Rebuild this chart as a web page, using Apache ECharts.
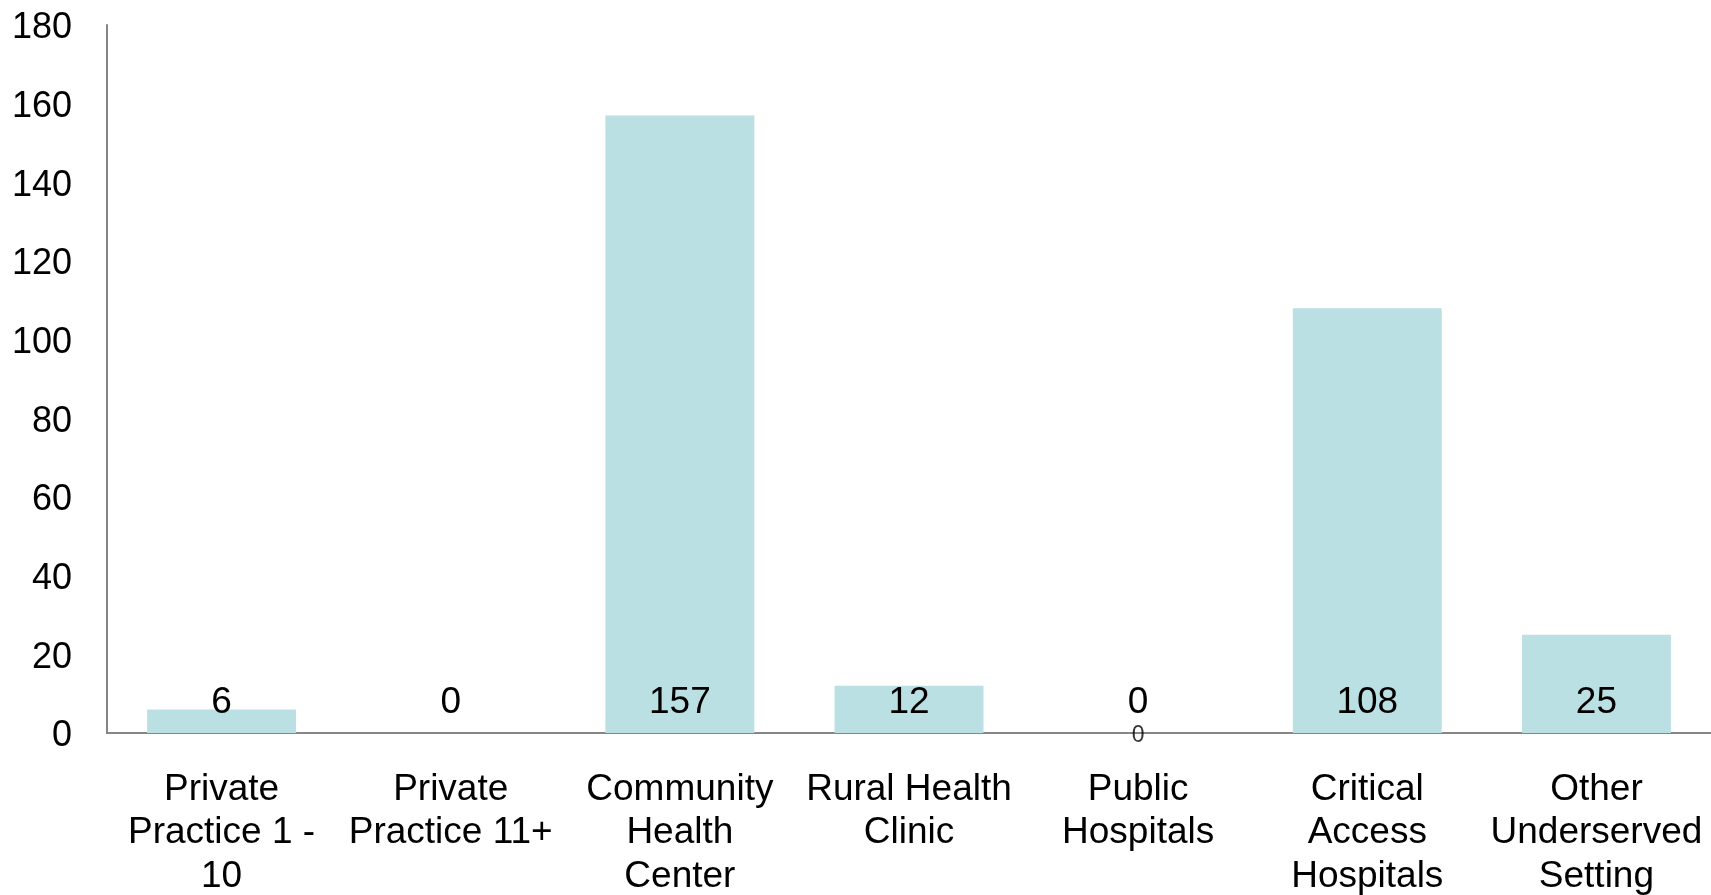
<!DOCTYPE html>
<html>
<head>
<meta charset="utf-8">
<script src="https://cdn.jsdelivr.net/npm/echarts@6/dist/echarts.min.js"></script>
<style>
  html, body { margin: 0; padding: 0; background: #fff; }
  #chart { width: 1711px; height: 895px; }
</style>
</head>
<body>
<div id="chart"></div>
<script>
// Practice settings and their counts
const categories = [
  'Private\nPractice 1 -\n10',
  'Private\nPractice 11+',
  'Community\nHealth\nCenter',
  'Rural Health\nClinic',
  'Public\nHospitals',
  'Critical\nAccess\nHospitals',
  'Other\nUnderserved\nSetting'
];
const counts = [6, 0, 157, 12, 0, 108, 25];

// Extra small zero label sitting on the baseline under Public Hospitals
const extraLabels = [['Public\nHospitals', 0]];

const yTicks = { min: 0, max: 180, interval: 20 };

const font = '"Liberation Sans", Arial, sans-serif';
const chart = echarts.init(document.getElementById('chart'), null, { renderer: 'canvas' });

chart.setOption({
  animation: false,
  backgroundColor: '#ffffff',
  grid: {
    left: 107, right: 0, top: 25, bottom: 162,
    containLabel: false,
    outerBoundsMode: 'none'
  },
  xAxis: {
    type: 'category',
    data: categories,
    axisLine: { show: true, lineStyle: { color: '#868686', width: 2 } },
    axisTick: { show: false },
    axisLabel: {
      color: '#000',
      fontFamily: font,
      fontSize: 37,
      lineHeight: 43.5,
      margin: 35,
      interval: 0
    },
    splitLine: { show: false }
  },
  yAxis: {
    type: 'value',
    min: yTicks.min,
    max: yTicks.max,
    interval: yTicks.interval,
    axisLine: { show: true, lineStyle: { color: '#868686', width: 2 } },
    axisTick: { show: false },
    axisLabel: {
      color: '#000',
      fontFamily: font,
      fontSize: 36,
      margin: 35,
      formatter: '{v|{value}}',
      rich: { v: { color: '#000', fontFamily: font, fontSize: 36, padding: [7, 0, 0, 0] } }
    },
    splitLine: { show: false }
  },
  series: [
    {
      type: 'bar',
      data: counts,
      barCategoryGap: '35%',
      itemStyle: { color: '#bae0e3' },
      label: {
        show: true,
        position: 'insideBottom',
        distance: 12,
        color: '#000',
        fontFamily: font,
        fontSize: 37
      },
      z: 2
    },
    {
      type: 'scatter',
      data: extraLabels,
      symbolSize: 0,
      silent: true,
      label: {
        show: true,
        position: 'inside',
        offset: [0, 3],
        formatter: function (p) { return String(p.value[1]); },
        color: '#000',
        fontFamily: font,
        fontSize: 23
      },
      z: 5
    }
  ]
});
</script>
</body>
</html>
